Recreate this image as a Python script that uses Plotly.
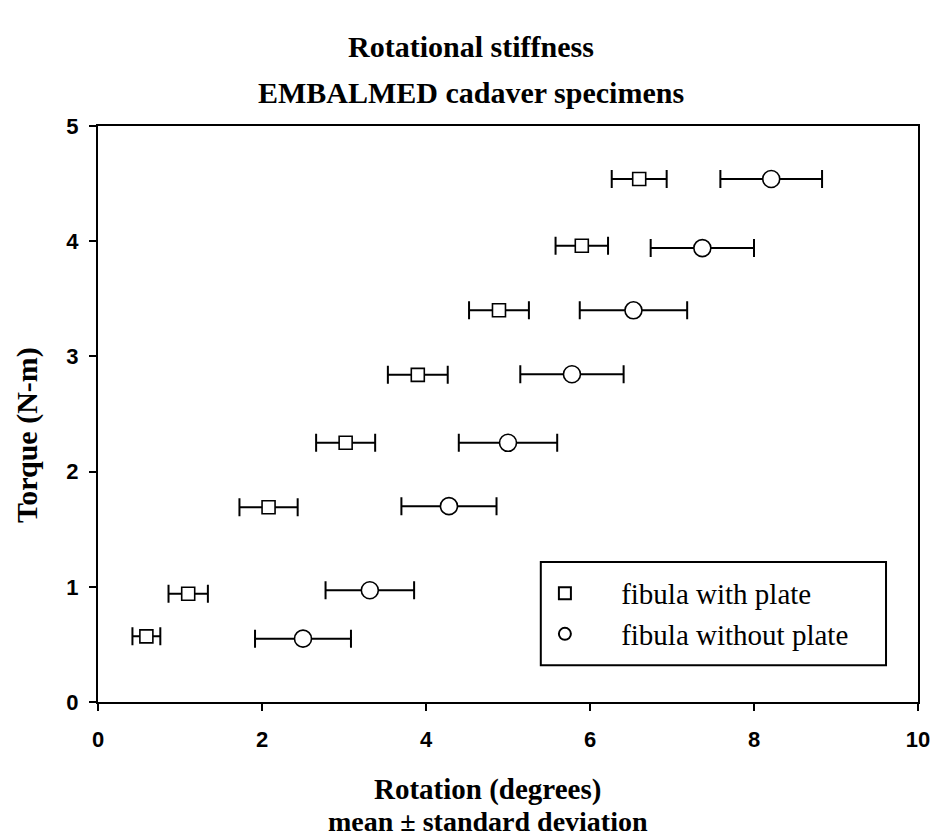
import plotly.graph_objects as go

# Data
torque_plate = [0.57, 0.94, 1.69, 2.25, 2.84, 3.40, 3.96, 4.54]
rotation_plate = [0.59, 1.10, 2.08, 3.02, 3.90, 4.89, 5.90, 6.60]
sd_plate = [0.17, 0.24, 0.355, 0.36, 0.365, 0.365, 0.32, 0.335]

torque_noplate = [0.55, 0.97, 1.70, 2.25, 2.845, 3.40, 3.94, 4.54]
rotation_noplate = [2.50, 3.315, 4.28, 5.00, 5.78, 6.53, 7.37, 8.21]
sd_noplate = [0.585, 0.54, 0.58, 0.60, 0.63, 0.655, 0.63, 0.62]

x_ticks = [0, 2, 4, 6, 8, 10]
y_ticks = [0, 1, 2, 3, 4, 5]

SERIF = "Liberation Serif, Times New Roman, serif"
SANS = "Liberation Sans, Arial, sans-serif"
NBSP = "\u00a0"

fig = go.Figure()
fig.add_trace(go.Scatter(
    x=rotation_plate, y=torque_plate, mode="markers",
    name=NBSP * 5 + "fibula with plate",
    marker=dict(symbol="square", size=13, color="white",
                line=dict(color="black", width=1.6)),
    error_x=dict(type="data", array=sd_plate, visible=True,
                 color="black", thickness=2, width=9),
))
fig.add_trace(go.Scatter(
    x=rotation_noplate, y=torque_noplate, mode="markers",
    name=NBSP * 5 + "fibula without plate",
    marker=dict(symbol="circle", size=17, color="white",
                line=dict(color="black", width=1.6)),
    error_x=dict(type="data", array=sd_noplate, visible=True,
                 color="black", thickness=2, width=9),
))

axis_common = dict(
    showline=True, linecolor="black", linewidth=2, mirror=True,
    ticks="outside", ticklen=7, tickwidth=2, tickcolor="black",
    showgrid=False, zeroline=False,
    tickfont=dict(family=SANS, size=22, color="black", weight="bold"),
)

fig.update_layout(
    width=939, height=837,
    margin=dict(l=90, r=29, t=118, b=143),
    paper_bgcolor="white", plot_bgcolor="white",
    xaxis=dict(range=[0, 10], tickvals=x_ticks, ticklabelstandoff=10, **axis_common),
    yaxis=dict(range=[0, 5], tickvals=y_ticks, ticklabelstandoff=6, **axis_common),
    showlegend=True,
    legend=dict(x=0.545, y=0.233, xanchor="left", yanchor="top",
                bgcolor="rgba(0,0,0,0)", borderwidth=0,
                font=dict(family=SERIF, size=29, color="black"),
                itemsizing="constant", tracegroupgap=0),
    shapes=[dict(type="rect", xref="paper", yref="paper",
                 x0=0.54, x1=0.961, y0=0.064, y1=0.243,
                 line=dict(color="black", width=2), fillcolor="rgba(0,0,0,0)")],
    annotations=[
        dict(text="Rotational stiffness", xref="paper", yref="paper",
             x=0.455, y=1.0, yshift=80, showarrow=False, xanchor="center",
             yanchor="middle", font=dict(family=SERIF, size=30, color="black", weight="bold")),
        dict(text="EMBALMED cadaver specimens", xref="paper", yref="paper",
             x=0.455, y=1.0, yshift=34, showarrow=False, xanchor="center",
             yanchor="middle", font=dict(family=SERIF, size=30, color="black", weight="bold")),
        dict(text="Torque (N-m)", xref="paper", yref="paper",
             x=0.0, xshift=-71, y=0.4635, showarrow=False, textangle=-90,
             xanchor="center", yanchor="middle",
             font=dict(family=SERIF, size=30, color="black", weight="bold")),
        dict(text="Rotation (degrees)", xref="paper", yref="paper",
             x=0.475, y=0.0, yshift=-87, showarrow=False, xanchor="center",
             yanchor="middle", font=dict(family=SERIF, size=29, color="black", weight="bold")),
        dict(text="mean ± standard deviation", xref="paper", yref="paper",
             x=0.475, y=0.0, yshift=-119, showarrow=False, xanchor="center",
             yanchor="middle", font=dict(family=SERIF, size=28, color="black", weight="bold")),
    ],
)

fig.write_html("out.html")
